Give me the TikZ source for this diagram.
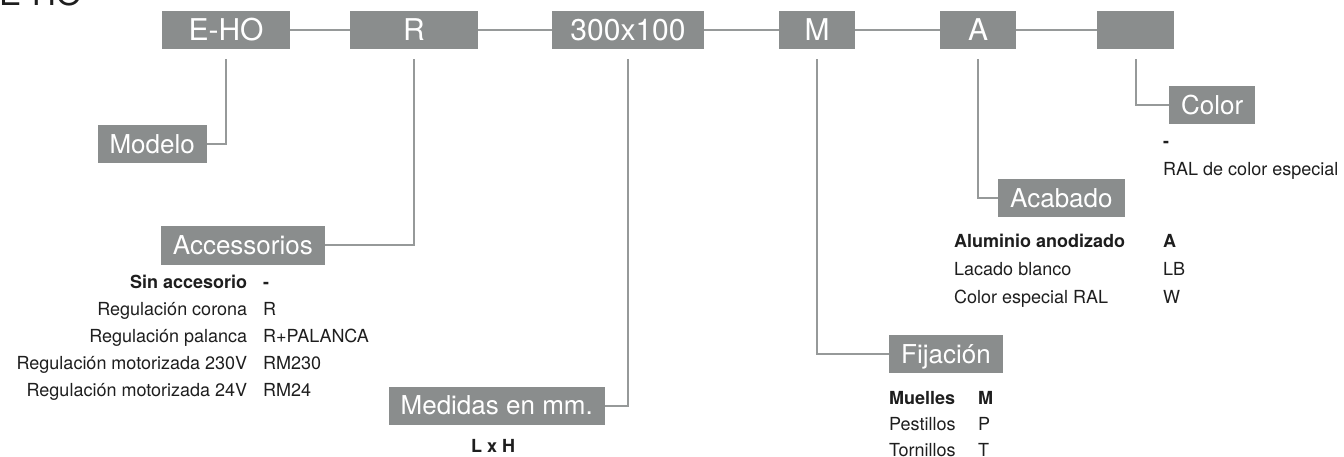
\documentclass[tikz,border=0pt]{standalone}
\usepackage{fontspec}
\setmainfont{TeX Gyre Heros}
\usepackage{array}
\usetikzlibrary{positioning}
\definecolor{boxgray}{RGB}{138,141,141}
\definecolor{linegray}{RGB}{150,153,153}
\definecolor{ink}{RGB}{30,30,30}

\begin{document}
\begin{tikzpicture}[x=1pt, y=-1pt,
  codebox/.style={fill=boxgray, text=white, font=\fontsize{30}{30}\selectfont,
    minimum height=38pt, text height=21.5pt, text depth=0pt, inner ysep=0pt, inner xsep=8pt},
  labelbox/.style={fill=boxgray, text=white, font=\fontsize{26}{26}\selectfont,
    minimum height=38pt, text height=18.7pt, text depth=0pt, inner ysep=0pt, inner xsep=12pt},
  conn/.style={draw=linegray, line width=2pt},
  tbl/.style={text=ink, inner sep=0pt, font=\fontsize{18}{27}\selectfont}]
  \useasboundingbox (0,0) rectangle (1344,457);

  % title, mostly above the page
  \node[text=ink, inner sep=0pt, anchor=base west, font=\fontsize{33}{33}\selectfont] (title) at (-1,6) {E-HO};

  % code row
  \node[codebox, minimum width=128pt] (eho) at (226,30) {E-HO};
  \node[codebox, minimum width=128pt] (reg) at (414,30) {R};
  \node[codebox, minimum width=152pt] (dim) at (628,30) {300x100};
  \node[codebox, minimum width=76pt] (fix) at (817,30) {M};
  \node[codebox, minimum width=76pt] (fin) at (978,30) {A};
  \node[codebox, minimum width=77pt] (col) at (1135.5,30) {};
  \draw[conn] (eho) -- (reg) -- (dim) -- (fix) -- (fin) -- (col);

  % field labels
  \node[labelbox, anchor=east] (modelo) at (207,144) {Modelo};
  \node[labelbox, anchor=east] (acc) at (325,245.5) {Accessorios};
  \node[labelbox, anchor=east] (medidas) at (605,405.5) {Medidas en mm.};
  \node[labelbox, anchor=west] (fij) at (889,354) {Fijación};
  \node[labelbox, anchor=west] (acab) at (998,198) {Acabado};
  \node[labelbox, anchor=west] (color) at (1169,105.5) {Color};

  \draw[conn] ([yshift=-10pt]eho.south) |- (modelo);
  \draw[conn] ([yshift=-10pt]reg.south) |- (acc);
  \draw[conn] ([yshift=-10pt]dim.south) |- (medidas);
  \draw[conn] ([yshift=-10pt]fix.south) |- (fij);
  \draw[conn] ([yshift=-10pt]fin.south) |- (acab);
  \draw[conn] ([yshift=-10pt]col.south) |- (color);

  % option tables
  \node[tbl, anchor=north west] (acctbl) at (12,269) {%
    \begin{tabular}{@{}>{\raggedleft\arraybackslash}p{235pt}@{\hspace{16pt}}l@{}}
      \textbf{Sin accesorio} & \textbf{-}\\
      Regulación corona & R\\
      Regulación palanca & R+PALANCA\\
      Regulación motorizada 230V & RM230\\
      Regulación motorizada 24V & RM24
    \end{tabular}};
  \node[tbl, anchor=base, font=\fontsize{18}{27}\selectfont\bfseries] (lxh) at (493,452) {L x H};
  \node[tbl, anchor=north west, font=\fontsize{18}{26}\selectfont] (fijtbl) at (889,385.8) {%
    \begin{tabular}{@{}p{89pt}@{}l@{}}
      \textbf{Muelles} & \textbf{M}\\
      Pestillos & P\\
      Tornillos & T
    \end{tabular}};
  \node[tbl, anchor=north west, font=\fontsize{18}{28}\selectfont] (acabtbl) at (954,227.4) {%
    \begin{tabular}{@{}p{209pt}@{}l@{}}
      \textbf{Aluminio anodizado} & \textbf{A}\\
      Lacado blanco & LB\\
      Color especial RAL & W
    \end{tabular}};
  \node[tbl, anchor=north west, font=\fontsize{18}{28}\selectfont] (coltbl) at (1163,127.4) {%
    \begin{tabular}{@{}l@{}}
      \textbf{-}\\
      RAL de color especial
    \end{tabular}};
\end{tikzpicture}
\end{document}
